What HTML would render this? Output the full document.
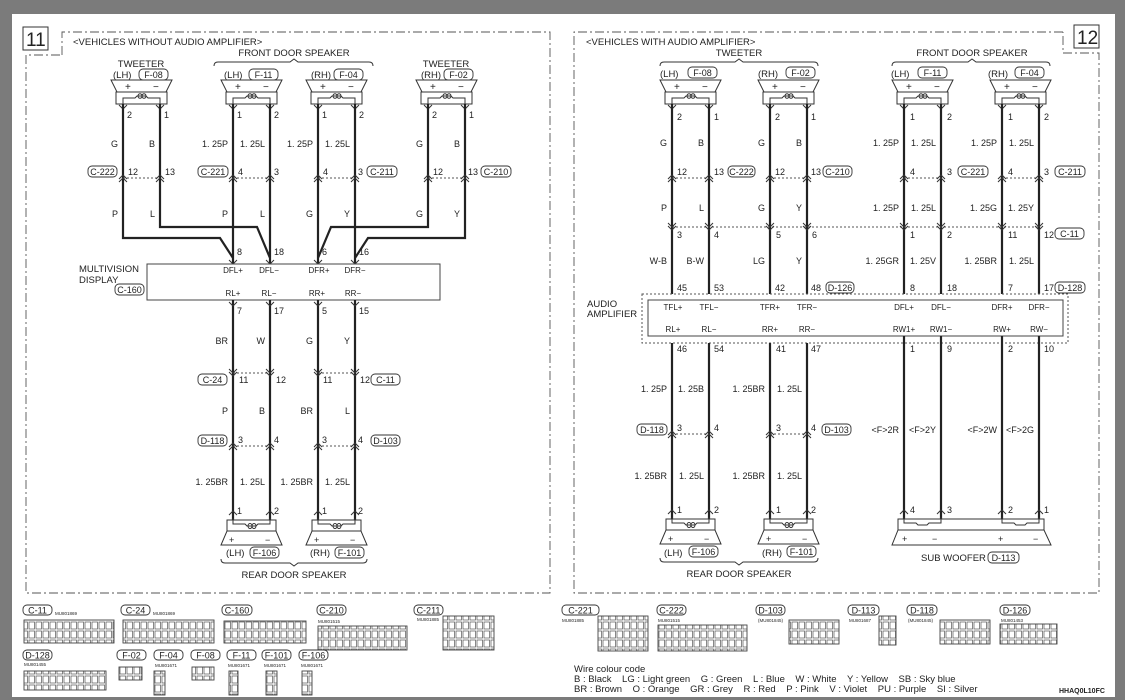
<!DOCTYPE html>
<html><head><meta charset="utf-8"><style>
html,body{margin:0;padding:0;background:#7b7b7b;width:1125px;height:700px;overflow:hidden}
svg{display:block}
text{font-family:"Liberation Sans",sans-serif;fill:#222}
.w{font-family:"Liberation Sans Narrow","Liberation Sans",sans-serif;font-size:9px;text-anchor:end}
.n{font-family:"Liberation Sans Narrow","Liberation Sans",sans-serif;font-size:9px}
.p{font-family:"Liberation Sans Narrow","Liberation Sans",sans-serif;font-size:8px;text-anchor:middle}
.h{font-size:9.5px}
.c{font-size:9.5px;text-anchor:middle}
.wire{stroke:#222;stroke-width:2.2;fill:none}
.dot{stroke:#555;stroke-width:1;stroke-dasharray:2,2;fill:none}
.fr{stroke:#555;stroke-width:0.9;stroke-dasharray:9,3,2,3;fill:none}
.th{stroke:#333;stroke-width:1;fill:none}
.lb{stroke:#333;stroke-width:0.9;fill:#fff}
.cn{font-family:"Liberation Sans Narrow","Liberation Sans",sans-serif;font-size:9px;text-anchor:middle}
.sm{font-size:4.5px}
.gr{fill:url(#cell);stroke:#444;stroke-width:0.9}
</style></head><body>
<svg width="1125" height="700" viewBox="0 0 1125 700" xmlns="http://www.w3.org/2000/svg">
<defs>
<pattern id="cell" width="7" height="9" patternUnits="userSpaceOnUse"><rect x="1" y="1" width="5.5" height="7" fill="#fff" stroke="#555" stroke-width="0.7"/></pattern>
<g id="spT">
<polygon points="-12,0 49,0 43,12 -6,12" fill="#fff" stroke="#333" stroke-width="1"/>
<rect x="-7" y="12" width="51" height="12" fill="#fff" stroke="#333" stroke-width="1"/>
<path d="M0,24 V18 H12 L14,16 H23 L25,18 H37 V24" class="th"/>
<ellipse cx="17" cy="16" rx="2" ry="2.3" class="th"/><ellipse cx="21" cy="16" rx="2" ry="2.3" class="th"/>
<path d="M-4,25 L0,29 L4,25 M33,25 L37,29 L41,25" class="th"/>
</g>
<g id="spB">
<rect x="-6" y="0" width="49" height="11" fill="#fff" stroke="#333" stroke-width="1"/>
<polygon points="-6,11 43,11 49,25 -12,25" fill="#fff" stroke="#333" stroke-width="1"/>
<path d="M0,-2 V4 H12 L14,6 H23 L25,4 H37 V-2" class="th"/>
<ellipse cx="17" cy="6" rx="2" ry="2.5" class="th"/><ellipse cx="21" cy="6" rx="2" ry="2.5" class="th"/>
<path d="M-4,-5 L0,-9 L4,-5 M33,-5 L37,-9 L41,-5" class="th"/>
</g>
<path id="ju" d="M-4,1 L0,-3 L4,1 M-4,4 L0,0 L4,4" class="th"/>
<path id="jd" d="M-4,-4 L0,0 L4,-4 M-4,-1 L0,3 L4,-1" class="th"/>
</defs>
<rect x="12" y="14" width="1103" height="683" fill="#fff"/>

<!-- LEFT FRAME -->
<rect x="23" y="27" width="25" height="23" fill="#fff" stroke="#333" stroke-width="1"/>
<text x="26" y="46" font-size="19">11</text>
<path class="fr" d="M62,55 V32 H550 V593 H26 V55 H62"/>
<text x="73" y="45" class="h">&lt;VEHICLES WITHOUT AUDIO AMPLIFIER&gt;</text>
<text x="294" y="56" class="c">FRONT DOOR SPEAKER</text>
<path class="th" d="M214,66 Q214,62 218,62 H290 L294,59 L298,62 H369 Q373,62 373,66"/>
<text x="141" y="67" class="c">TWEETER</text>
<text x="446" y="67" class="c">TWEETER</text>
<text x="113" y="78" font-size="9.5">(LH)</text>
<rect x="139" y="69" width="29" height="11" rx="4" class="lb"/><text x="153.5" y="78" class="cn">F-08</text>
<text x="224" y="78" font-size="9.5">(LH)</text>
<rect x="249" y="69" width="29" height="11" rx="4" class="lb"/><text x="263.5" y="78" class="cn">F-11</text>
<text x="311" y="78" font-size="9.5">(RH)</text>
<rect x="334" y="69" width="29" height="11" rx="4" class="lb"/><text x="348.5" y="78" class="cn">F-04</text>
<text x="421" y="78" font-size="9.5">(RH)</text>
<rect x="444" y="69" width="29" height="11" rx="4" class="lb"/><text x="458.5" y="78" class="cn">F-02</text>

<use href="#spT" x="123" y="80"/><use href="#spT" x="233" y="80"/><use href="#spT" x="318" y="80"/><use href="#spT" x="428" y="80"/>
<g font-size="10"><text x="125" y="90">+</text><text x="153" y="90">−</text><text x="235" y="90">+</text><text x="263" y="90">−</text><text x="320" y="90">+</text><text x="348" y="90">−</text><text x="430" y="90">+</text><text x="458" y="90">−</text></g>

<path class="wire" d="M123,104 V238 H220 L233,258 M160,104 V227 H257 L270,258 M428,104 V227 H331 L318,258 M465,104 V238 H368 L355,258 M233,104 V264 M270,104 V264 M318,104 V264 M355,104 V264"/>
<g class="n"><text x="127" y="118">2</text><text x="164" y="118">1</text><text x="237" y="118">1</text><text x="274" y="118">2</text><text x="322" y="118">1</text><text x="359" y="118">2</text><text x="432" y="118">2</text><text x="469" y="118">1</text></g>
<g class="w"><text x="118" y="147">G</text><text x="155" y="147">B</text><text x="228" y="147">1. 25P</text><text x="265" y="147">1. 25L</text><text x="313" y="147">1. 25P</text><text x="350" y="147">1. 25L</text><text x="423" y="147">G</text><text x="460" y="147">B</text></g>
<path class="dot" d="M123,178 H160 M233,178 H270 M318,178 H355 M428,178 H465"/>
<use href="#ju" x="123" y="178"/><use href="#ju" x="160" y="178"/><use href="#ju" x="233" y="178"/><use href="#ju" x="270" y="178"/><use href="#ju" x="318" y="178"/><use href="#ju" x="355" y="178"/><use href="#ju" x="428" y="178"/><use href="#ju" x="465" y="178"/>
<g class="n"><text x="128" y="175">12</text><text x="165" y="175">13</text><text x="238" y="175">4</text><text x="274" y="175">3</text><text x="323" y="175">4</text><text x="358" y="175">3</text><text x="433" y="175">12</text><text x="468" y="175">13</text></g>
<rect x="88" y="166" width="29" height="11" rx="4" class="lb"/><text x="102.5" y="175" class="cn">C-222</text>
<rect x="198" y="166" width="30" height="11" rx="4" class="lb"/><text x="213" y="175" class="cn">C-221</text>
<rect x="367" y="166" width="30" height="11" rx="4" class="lb"/><text x="382" y="175" class="cn">C-211</text>
<rect x="481" y="166" width="30" height="11" rx="4" class="lb"/><text x="496" y="175" class="cn">C-210</text>
<g class="w"><text x="118" y="217">P</text><text x="155" y="217">L</text><text x="228" y="217">P</text><text x="265" y="217">L</text><text x="313" y="217">G</text><text x="350" y="217">Y</text><text x="423" y="217">G</text><text x="460" y="217">Y</text></g>
<g class="n"><text x="237" y="255">8</text><text x="274" y="255">18</text><text x="322" y="255">6</text><text x="359" y="255">16</text></g>
<path class="th" d="M229,260 L233,264 L237,260 M266,260 L270,264 L274,260 M314,260 L318,264 L322,260 M351,260 L355,264 L359,260"/>
<rect x="147" y="264" width="293" height="36" fill="#fff" stroke="#444" stroke-width="1"/>
<g class="p"><text x="233" y="273">DFL+</text><text x="269" y="273">DFL−</text><text x="319" y="273">DFR+</text><text x="355" y="273">DFR−</text>
<text x="233" y="296">RL+</text><text x="269" y="296">RL−</text><text x="317" y="296">RR+</text><text x="353" y="296">RR−</text></g>
<text x="79" y="272" font-size="9.5">MULTIVISION</text><text x="79" y="283" font-size="9.5">DISPLAY</text>
<rect x="115" y="284" width="29" height="11" rx="4" class="lb"/><text x="129.5" y="293" class="cn">C-160</text>

<path class="wire" d="M233,300 V520 M270,300 V520 M318,300 V520 M355,300 V520"/>
<path class="th" d="M229,302 L233,306 L237,302 M266,302 L270,306 L274,302 M314,302 L318,306 L322,302 M351,302 L355,306 L359,302"/>
<g class="n"><text x="237" y="314">7</text><text x="274" y="314">17</text><text x="322" y="314">5</text><text x="359" y="314">15</text></g>
<g class="w"><text x="228" y="344">BR</text><text x="265" y="344">W</text><text x="313" y="344">G</text><text x="350" y="344">Y</text></g>
<path class="dot" d="M233,373 H270 M318,373 H355"/>
<use href="#jd" x="233" y="373"/><use href="#jd" x="270" y="373"/><use href="#jd" x="318" y="373"/><use href="#jd" x="355" y="373"/>
<g class="n"><text x="239" y="383">11</text><text x="276" y="383">12</text><text x="323" y="383">11</text><text x="360" y="383">12</text></g>
<rect x="198" y="374" width="29" height="11" rx="4" class="lb"/><text x="212.5" y="383" class="cn">C-24</text>
<rect x="371" y="374" width="29" height="11" rx="4" class="lb"/><text x="385.5" y="383" class="cn">C-11</text>
<g class="w"><text x="228" y="414">P</text><text x="265" y="414">B</text><text x="313" y="414">BR</text><text x="350" y="414">L</text></g>
<path class="dot" d="M233,446 H270 M318,446 H355"/>
<use href="#ju" x="233" y="446"/><use href="#ju" x="270" y="446"/><use href="#ju" x="318" y="446"/><use href="#ju" x="355" y="446"/>
<g class="n"><text x="238" y="443">3</text><text x="274" y="443">4</text><text x="322" y="443">3</text><text x="358" y="443">4</text></g>
<rect x="198" y="435" width="29" height="11" rx="4" class="lb"/><text x="212.5" y="444" class="cn">D-118</text>
<rect x="371" y="435" width="29" height="11" rx="4" class="lb"/><text x="385.5" y="444" class="cn">D-103</text>
<g class="w"><text x="228" y="485">1. 25BR</text><text x="265" y="485">1. 25L</text><text x="313" y="485">1. 25BR</text><text x="350" y="485">1. 25L</text></g>
<g class="n"><text x="237" y="514">1</text><text x="274" y="514">2</text><text x="322" y="514">1</text><text x="358" y="514">2</text></g>
<use href="#spB" x="233" y="520"/><use href="#spB" x="318" y="520"/>
<g font-size="9"><text x="229" y="543">+</text><text x="265" y="543">−</text><text x="314" y="543">+</text><text x="350" y="543">−</text></g>
<text x="226" y="556" font-size="9.5">(LH)</text>
<rect x="250" y="547" width="29" height="11" rx="4" class="lb"/><text x="264.5" y="556" class="cn">F-106</text>
<text x="310" y="556" font-size="9.5">(RH)</text>
<rect x="335" y="547" width="29" height="11" rx="4" class="lb"/><text x="349.5" y="556" class="cn">F-101</text>
<path class="th" d="M221,559 Q221,563 225,563 H290 L294,566 L298,563 H363 Q367,563 367,559"/>
<text x="294" y="578" class="c">REAR DOOR SPEAKER</text>

<!-- RIGHT FRAME -->
<rect x="1074" y="25" width="25" height="23" fill="#fff" stroke="#333" stroke-width="1"/>
<text x="1077" y="44" font-size="19">12</text>
<path class="fr" d="M1063,32 H574 V593 H1099 V53 H1063 V32"/>
<text x="586" y="45" class="h">&lt;VEHICLES WITH AUDIO AMPLIFIER&gt;</text>
<text x="739" y="56" class="c">TWEETER</text>
<text x="972" y="56" class="c">FRONT DOOR SPEAKER</text>
<path class="th" d="M660,66 Q660,62 664,62 H735 L739,59 L743,62 H814 Q818,62 818,66"/>
<path class="th" d="M892,66 Q892,62 896,62 H968 L972,59 L976,62 H1046 Q1050,62 1050,66"/>
<text x="660" y="77" font-size="9.5">(LH)</text>
<rect x="688" y="67" width="29" height="11" rx="4" class="lb"/><text x="702.5" y="76" class="cn">F-08</text>
<text x="758" y="77" font-size="9.5">(RH)</text>
<rect x="786" y="67" width="29" height="11" rx="4" class="lb"/><text x="800.5" y="76" class="cn">F-02</text>
<text x="891" y="77" font-size="9.5">(LH)</text>
<rect x="918" y="67" width="29" height="11" rx="4" class="lb"/><text x="932.5" y="76" class="cn">F-11</text>
<text x="988" y="77" font-size="9.5">(RH)</text>
<rect x="1015" y="67" width="29" height="11" rx="4" class="lb"/><text x="1029.5" y="76" class="cn">F-04</text>
<use href="#spT" x="672" y="80"/><use href="#spT" x="770" y="80"/><use href="#spT" x="904" y="80"/><use href="#spT" x="1002" y="80"/>
<g font-size="10"><text x="674" y="90">+</text><text x="702" y="90">−</text><text x="772" y="90">+</text><text x="800" y="90">−</text><text x="906" y="90">+</text><text x="934" y="90">−</text><text x="1004" y="90">+</text><text x="1032" y="90">−</text></g>
<path class="wire" d="M672,104 V294 M709,104 V294 M770,104 V294 M807,104 V294 M904,104 V294 M941,104 V294 M1002,104 V294 M1039,104 V294"/>
<g class="n"><text x="677" y="120">2</text><text x="714" y="120">1</text><text x="775" y="120">2</text><text x="811" y="120">1</text><text x="910" y="120">1</text><text x="947" y="120">2</text><text x="1008" y="120">1</text><text x="1044" y="120">2</text></g>
<g class="w"><text x="667" y="146">G</text><text x="704" y="146">B</text><text x="765" y="146">G</text><text x="802" y="146">B</text><text x="899" y="146">1. 25P</text><text x="936" y="146">1. 25L</text><text x="997" y="146">1. 25P</text><text x="1034" y="146">1. 25L</text></g>
<path class="dot" d="M672,178 H709 M770,178 H807 M904,178 H941 M1002,178 H1039"/>
<use href="#ju" x="672" y="178"/><use href="#ju" x="709" y="178"/><use href="#ju" x="770" y="178"/><use href="#ju" x="807" y="178"/><use href="#ju" x="904" y="178"/><use href="#ju" x="941" y="178"/><use href="#ju" x="1002" y="178"/><use href="#ju" x="1039" y="178"/>
<g class="n"><text x="677" y="175">12</text><text x="714" y="175">13</text><text x="775" y="175">12</text><text x="811" y="175">13</text><text x="910" y="175">4</text><text x="947" y="175">3</text><text x="1008" y="175">4</text><text x="1044" y="175">3</text></g>
<rect x="728" y="166" width="27" height="11" rx="4" class="lb"/><text x="741.5" y="175" class="cn">C-222</text>
<rect x="823" y="166" width="29" height="11" rx="4" class="lb"/><text x="837.5" y="175" class="cn">C-210</text>
<rect x="958" y="166" width="30" height="11" rx="4" class="lb"/><text x="973" y="175" class="cn">C-221</text>
<rect x="1055" y="166" width="30" height="11" rx="4" class="lb"/><text x="1070" y="175" class="cn">C-211</text>
<g class="w"><text x="667" y="211">P</text><text x="704" y="211">L</text><text x="765" y="211">G</text><text x="802" y="211">Y</text><text x="899" y="211">1. 25P</text><text x="936" y="211">1. 25L</text><text x="997" y="211">1. 25G</text><text x="1034" y="211">1. 25Y</text></g>
<path class="dot" d="M672,227 H1039"/>
<use href="#jd" x="672" y="227"/><use href="#jd" x="709" y="227"/><use href="#jd" x="770" y="227"/><use href="#jd" x="807" y="227"/><use href="#jd" x="904" y="227"/><use href="#jd" x="941" y="227"/><use href="#jd" x="1002" y="227"/><use href="#jd" x="1039" y="227"/>
<g class="n"><text x="677" y="238">3</text><text x="714" y="238">4</text><text x="776" y="238">5</text><text x="812" y="238">6</text><text x="910" y="238">1</text><text x="947" y="238">2</text><text x="1008" y="238">11</text><text x="1044" y="238">12</text></g>
<rect x="1055" y="228" width="29" height="11" rx="4" class="lb"/><text x="1069.5" y="237" class="cn">C-11</text>
<g class="w"><text x="667" y="264">W-B</text><text x="704" y="264">B-W</text><text x="765" y="264">LG</text><text x="802" y="264">Y</text><text x="899" y="264">1. 25GR</text><text x="936" y="264">1. 25V</text><text x="997" y="264">1. 25BR</text><text x="1034" y="264">1. 25L</text></g>
<g class="n"><text x="677" y="291">45</text><text x="714" y="291">53</text><text x="775" y="291">42</text><text x="811" y="291">48</text><text x="910" y="291">8</text><text x="947" y="291">18</text><text x="1008" y="291">7</text><text x="1044" y="291">17</text></g>
<rect x="826" y="282" width="28" height="11" rx="4" class="lb"/><text x="840" y="291" class="cn">D-126</text>
<rect x="1055" y="282" width="30" height="11" rx="4" class="lb"/><text x="1070" y="291" class="cn">D-128</text>
<rect x="642" y="294" width="426" height="49" fill="none" stroke="#555" stroke-width="1" stroke-dasharray="2,2"/>
<rect x="648" y="300" width="415" height="36" fill="#fff" stroke="#444" stroke-width="1"/>
<g class="p"><text x="673" y="310">TFL+</text><text x="709" y="310">TFL−</text><text x="770" y="310">TFR+</text><text x="807" y="310">TFR−</text><text x="904" y="310">DFL+</text><text x="941" y="310">DFL−</text><text x="1002" y="310">DFR+</text><text x="1039" y="310">DFR−</text>
<text x="673" y="332">RL+</text><text x="709" y="332">RL−</text><text x="770" y="332">RR+</text><text x="807" y="332">RR−</text><text x="904" y="332">RW1+</text><text x="941" y="332">RW1−</text><text x="1002" y="332">RW+</text><text x="1039" y="332">RW−</text></g>
<text x="587" y="307" font-size="9.5">AUDIO</text><text x="587" y="317" font-size="9.5">AMPLIFIER</text>
<path class="wire" d="M672,343 V520 M709,343 V520 M770,343 V520 M807,343 V520 M904,336 V519 M941,336 V519 M1002,336 V519 M1039,336 V519"/>
<g class="n"><text x="677" y="352">46</text><text x="714" y="352">54</text><text x="776" y="352">41</text><text x="811" y="352">47</text><text x="910" y="352">1</text><text x="947" y="352">9</text><text x="1008" y="352">2</text><text x="1044" y="352">10</text></g>
<g class="w"><text x="667" y="392">1. 25P</text><text x="704" y="392">1. 25B</text><text x="765" y="392">1. 25BR</text><text x="802" y="392">1. 25L</text></g>
<path class="dot" d="M672,434 H709 M770,434 H807"/>
<use href="#ju" x="672" y="434"/><use href="#ju" x="709" y="434"/><use href="#ju" x="770" y="434"/><use href="#ju" x="807" y="434"/>
<g class="n"><text x="677" y="431">3</text><text x="714" y="431">4</text><text x="776" y="431">3</text><text x="811" y="431">4</text></g>
<rect x="637" y="424" width="30" height="11" rx="4" class="lb"/><text x="652" y="433" class="cn">D-118</text>
<rect x="822" y="424" width="29" height="11" rx="4" class="lb"/><text x="836.5" y="433" class="cn">D-103</text>
<g class="w"><text x="899" y="433">&lt;F&gt;2R</text><text x="936" y="433">&lt;F&gt;2Y</text><text x="997" y="433">&lt;F&gt;2W</text><text x="1034" y="433">&lt;F&gt;2G</text></g>
<g class="w"><text x="667" y="479">1. 25BR</text><text x="704" y="479">1. 25L</text><text x="765" y="479">1. 25BR</text><text x="802" y="479">1. 25L</text></g>
<g class="n"><text x="677" y="513">1</text><text x="714" y="513">2</text><text x="776" y="513">1</text><text x="811" y="513">2</text><text x="910" y="513">4</text><text x="947" y="513">3</text><text x="1008" y="513">2</text><text x="1044" y="513">1</text></g>
<use href="#spB" x="672" y="519"/><use href="#spB" x="770" y="519"/>
<g font-size="9"><text x="668" y="542">+</text><text x="704" y="542">−</text><text x="766" y="542">+</text><text x="802" y="542">−</text></g>
<text x="664" y="556" font-size="9.5">(LH)</text>
<rect x="689" y="546" width="29" height="11" rx="4" class="lb"/><text x="703.5" y="555" class="cn">F-106</text>
<text x="762" y="556" font-size="9.5">(RH)</text>
<rect x="787" y="546" width="29" height="11" rx="4" class="lb"/><text x="801.5" y="555" class="cn">F-101</text>
<path class="th" d="M660,558 Q660,562 664,562 H735 L739,565 L743,562 H814 Q818,562 818,558"/>
<text x="739" y="577" class="c">REAR DOOR SPEAKER</text>
<!-- subwoofer -->
<rect x="898" y="519" width="146" height="11" fill="#fff" stroke="#333" stroke-width="1"/>
<polygon points="898,530 1044,530 1051,545 892,545" fill="#fff" stroke="#333" stroke-width="1"/>
<path class="th" d="M904,517 V523 H916 L918,525 H927 L929,523 H941 V517 M1002,517 V523 H1014 L1016,525 H1025 L1027,523 H1039 V517 M900,514 L904,510 L908,514 M937,514 L941,510 L945,514 M998,514 L1002,510 L1006,514 M1035,514 L1039,510 L1043,514"/>
<g font-size="9"><text x="902" y="542">+</text><text x="932" y="542">−</text><text x="998" y="542">+</text><text x="1033" y="542">−</text></g>
<text x="921" y="561" font-size="9.5">SUB WOOFER</text>
<rect x="988" y="552" width="31" height="11" rx="4" class="lb"/><text x="1003.5" y="561" class="cn">D-113</text>

<!-- CONNECTOR TABLE -->
<g>
<rect x="23" y="605" width="29" height="10" rx="4" class="lb"/><text x="37.5" y="613.5" class="cn">C-11</text><text x="55" y="615" class="sm">MU801869</text>
<rect x="24" y="620" width="90" height="23" class="gr"/>
<rect x="121" y="605" width="29" height="10" rx="4" class="lb"/><text x="135.5" y="613.5" class="cn">C-24</text><text x="153" y="615" class="sm">MU801869</text>
<rect x="123" y="620" width="91" height="23" class="gr"/>
<rect x="222" y="605" width="30" height="10" rx="4" class="lb"/><text x="237" y="613.5" class="cn">C-160</text>
<rect x="224" y="621" width="82" height="22" class="gr"/>
<rect x="317" y="605" width="29" height="10" rx="4" class="lb"/><text x="331.5" y="613.5" class="cn">C-210</text><text x="318" y="623" class="sm">MU801515</text>
<rect x="318" y="626" width="89" height="24" class="gr"/>
<rect x="414" y="605" width="29" height="10" rx="4" class="lb"/><text x="428.5" y="613.5" class="cn">C-211</text><text x="417" y="621" class="sm">MU801885</text>
<rect x="443" y="616" width="51" height="34" class="gr"/>
<rect x="23" y="650" width="29" height="10" rx="4" class="lb"/><text x="37.5" y="658.5" class="cn">D-128</text><text x="24" y="666" class="sm">MU801455</text>
<rect x="24" y="671" width="82" height="19" class="gr"/>
<rect x="117" y="650" width="29" height="10" rx="4" class="lb"/><text x="131.5" y="658.5" class="cn">F-02</text>
<rect x="119" y="667" width="23" height="13" class="gr"/>
<rect x="154" y="650" width="29" height="10" rx="4" class="lb"/><text x="168.5" y="658.5" class="cn">F-04</text><text x="155" y="667" class="sm">MU801671</text>
<rect x="154" y="671" width="11" height="24" class="gr"/>
<rect x="191" y="650" width="29" height="10" rx="4" class="lb"/><text x="205.5" y="658.5" class="cn">F-08</text>
<rect x="192" y="667" width="22" height="13" class="gr"/>
<rect x="227" y="650" width="29" height="10" rx="4" class="lb"/><text x="241.5" y="658.5" class="cn">F-11</text><text x="228" y="667" class="sm">MU801671</text>
<rect x="229" y="671" width="9" height="24" class="gr"/>
<rect x="262" y="650" width="29" height="10" rx="4" class="lb"/><text x="276.5" y="658.5" class="cn">F-101</text><text x="264" y="667" class="sm">MU801671</text>
<rect x="266" y="671" width="11" height="24" class="gr"/>
<rect x="299" y="650" width="29" height="10" rx="4" class="lb"/><text x="313.5" y="658.5" class="cn">F-106</text><text x="301" y="667" class="sm">MU801671</text>
<rect x="302" y="671" width="10" height="24" class="gr"/>

<rect x="562" y="605" width="37" height="10" rx="4" class="lb"/><text x="580.5" y="613.5" class="cn">C-221</text><text x="562" y="622" class="sm">MU801885</text>
<rect x="598" y="616" width="50" height="35" class="gr"/>
<rect x="657" y="605" width="29" height="10" rx="4" class="lb"/><text x="671.5" y="613.5" class="cn">C-222</text><text x="658" y="622" class="sm">MU801515</text>
<rect x="658" y="625" width="89" height="26" class="gr"/>
<rect x="756" y="605" width="29" height="10" rx="4" class="lb"/><text x="770.5" y="613.5" class="cn">D-103</text><text x="758" y="622" class="sm">(MU801845)</text>
<rect x="789" y="620" width="50" height="24" class="gr"/>
<rect x="848" y="605" width="31" height="10" rx="4" class="lb"/><text x="863.5" y="613.5" class="cn">D-113</text><text x="849" y="622" class="sm">MU801687</text>
<rect x="879" y="616" width="17" height="29" class="gr"/>
<rect x="907" y="605" width="30" height="10" rx="4" class="lb"/><text x="922" y="613.5" class="cn">D-118</text><text x="908" y="622" class="sm">(MU801845)</text>
<rect x="940" y="620" width="50" height="24" class="gr"/>
<rect x="1000" y="605" width="30" height="10" rx="4" class="lb"/><text x="1015" y="613.5" class="cn">D-126</text><text x="1001" y="622" class="sm">MU801453</text>
<rect x="1000" y="624" width="57" height="20" class="gr"/>
</g>
<text x="574" y="672" font-size="9.5">Wire colour code</text>
<text x="574" y="682" font-size="9.5" xml:space="preserve">B : Black    LG : Light green    G : Green    L : Blue    W : White    Y : Yellow    SB : Sky blue</text>
<text x="574" y="692" font-size="9.5" xml:space="preserve">BR : Brown    O : Orange    GR : Grey    R : Red    P : Pink    V : Violet    PU : Purple    SI : Silver</text>
<text x="1059" y="693" font-size="7" font-weight="bold">HHAQ0L10FC</text>
</svg>
</body></html>
